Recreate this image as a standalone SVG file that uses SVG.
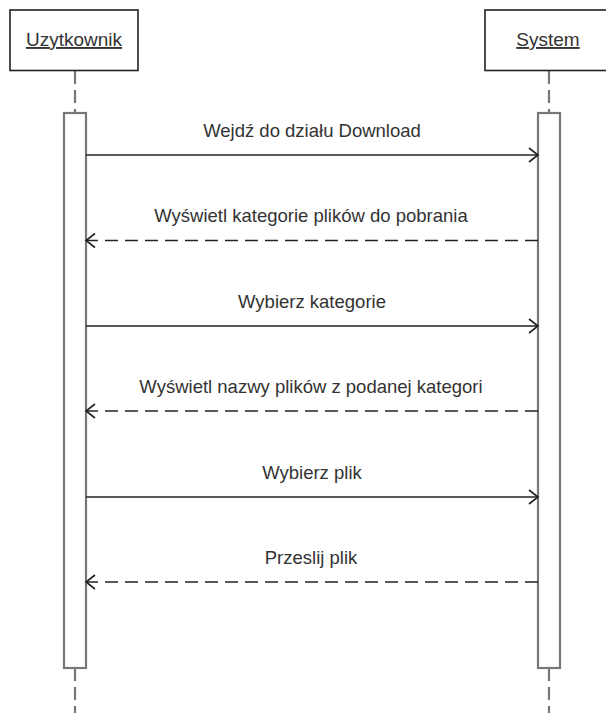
<svg xmlns="http://www.w3.org/2000/svg" width="606" height="713" viewBox="0 0 606 713">
<style>
.actor{fill:#fff;stroke:#222;stroke-width:1.6}
.alabel{font-family:"Liberation Sans",Arial,sans-serif;font-size:19px;fill:#333;text-anchor:middle;text-decoration:underline}
.life{stroke:#777;stroke-width:2.2;stroke-dasharray:13,6;fill:none}
.act{fill:#fff;stroke:#777;stroke-width:2.2}
.msg{stroke:#222;stroke-width:1.6;fill:none}
.ret{stroke:#222;stroke-width:1.6;fill:none;stroke-dasharray:13,7}
.head{stroke:#222;stroke-width:1.6;fill:none}
.mlabel{font-family:"Liberation Sans",Arial,sans-serif;font-size:18.5px;fill:#333;text-anchor:middle}
</style>
<rect width="606" height="713" fill="#fff"/>
<g id="uzytkownik">
<line class="life" x1="75" y1="71" x2="75" y2="113"/>
<line class="life" x1="75" y1="668" x2="75" y2="713"/>
<rect class="actor" x="10" y="10" width="128" height="60.5"/>
<text class="alabel" x="74" y="46">Uzytkownik</text>
<rect class="act" x="64" y="113" width="22" height="555"/>
</g>
<g id="system">
<line class="life" x1="549" y1="71" x2="549" y2="113"/>
<line class="life" x1="549" y1="668" x2="549" y2="713"/>
<rect class="actor" x="485" y="10" width="128" height="60.5"/>
<text class="alabel" x="548" y="46">System</text>
<rect class="act" x="538" y="113" width="22" height="555"/>
</g>
<g id="connectors">
<line class="msg" x1="86" y1="155" x2="538" y2="155"/>
<polyline class="head" points="529,148 538,155 529,162"/>
<text class="mlabel" x="312" y="137">Wejdź do działu Download</text>

<line class="ret" x1="538" y1="240.5" x2="86" y2="240.5"/>
<polyline class="head" points="95,233.5 86,240.5 95,247.5"/>
<text class="mlabel" x="311" y="222">Wyświetl kategorie plików do pobrania</text>

<line class="msg" x1="86" y1="326" x2="538" y2="326"/>
<polyline class="head" points="529,319 538,326 529,333"/>
<text class="mlabel" x="312" y="308">Wybierz kategorie</text>

<line class="ret" x1="538" y1="411" x2="86" y2="411"/>
<polyline class="head" points="95,404 86,411 95,418"/>
<text class="mlabel" x="311" y="393">Wyświetl nazwy plików z podanej kategori</text>

<line class="msg" x1="86" y1="497" x2="538" y2="497"/>
<polyline class="head" points="529,490 538,497 529,504"/>
<text class="mlabel" x="312" y="479">Wybierz plik</text>

<line class="ret" x1="538" y1="582" x2="86" y2="582"/>
<polyline class="head" points="95,575 86,582 95,589"/>
<text class="mlabel" x="311" y="564">Przeslij plik</text>
</g>
</svg>
